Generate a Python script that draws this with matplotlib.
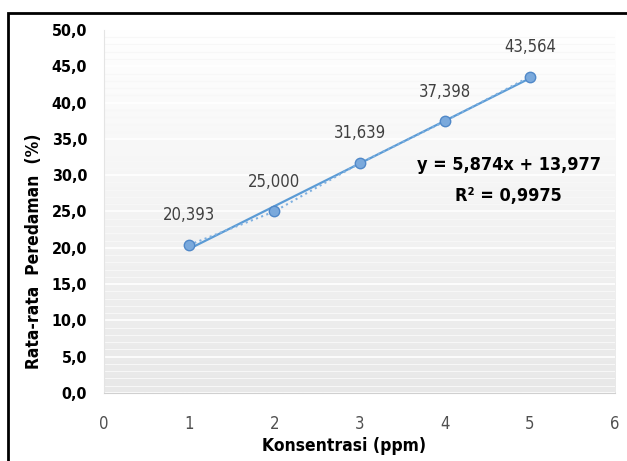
import numpy as np
import matplotlib
matplotlib.use("Agg")
import matplotlib.pyplot as plt
from matplotlib.patches import Rectangle
from matplotlib.ticker import MultipleLocator, FuncFormatter
from matplotlib.colors import LinearSegmentedColormap

konsentrasi = [1, 2, 3, 4, 5]
peredaman = [20.393, 25.000, 31.639, 37.398, 43.564]
labels = ["20,393", "25,000", "31,639", "37,398", "43,564"]
slope = 5.874
intercept = 13.977
eq_text = "y = 5,874x + 13,977"
r2_text = "R² = 0,9975"

plt.rcParams['font.family'] = ["DejaVu Sans"]
plt.rcParams['font.stretch'] = 'condensed'

fig = plt.figure(figsize=(6.27, 4.61), dpi=100)
ax = fig.add_axes([0.1659, 0.1475, 0.815, 0.7875])

# gradient background: white at top, light gray at bottom
grad = np.linspace(0, 1, 256).reshape(-1, 1)
cmap = LinearSegmentedColormap.from_list("g", ["#e8e8e8", "#ffffff"])
ax.imshow(grad, extent=[0, 1, 0, 1], transform=ax.transAxes, cmap=cmap,
          aspect='auto', origin='lower', zorder=0, vmin=0, vmax=1)

ax.set_xlim(0, 6)
ax.set_ylim(0, 50)
ax.xaxis.set_major_locator(MultipleLocator(1))
ax.yaxis.set_major_locator(MultipleLocator(5))
ax.yaxis.set_minor_locator(MultipleLocator(1))
ax.yaxis.set_major_formatter(FuncFormatter(lambda v, p: f"{v:.1f}".replace('.', ',')))
ax.grid(axis='y', which='major', color='white', linewidth=1.2, zorder=1)
ax.grid(axis='y', which='minor', color='#f7f7f7', linewidth=0.8, zorder=1)

for s in ['top', 'right']:
    ax.spines[s].set_visible(False)
ax.spines['left'].set_color('#e4e4e4')
ax.spines['bottom'].set_color('#d0d0d0')
ax.tick_params(axis='both', which='both', length=0)
ax.tick_params(axis='y', labelsize=11.5, pad=12)
ax.tick_params(axis='x', labelsize=12, pad=16, labelcolor='#505050')
for t in ax.get_yticklabels():
    t.set_fontweight('bold')

# trendline
xs = np.array([konsentrasi[0], konsentrasi[-1]])
ax.plot(xs, slope * xs + intercept, color='#5b9bd5', linewidth=1.6, zorder=3)
# data line (dotted)
ax.plot(konsentrasi, peredaman, color='#7fb0e0', linewidth=1.5, linestyle=':', zorder=3)
ax.plot(konsentrasi, peredaman, linestyle='none', marker='o', markersize=7.5,
        markerfacecolor='#7aa9dc', markeredgecolor='#5088c8', markeredgewidth=1.0, zorder=4)

for x, y, lab in zip(konsentrasi, peredaman, labels):
    ax.annotate(lab, (x, y), xytext=(0, 15), textcoords='offset points',
                ha='center', va='bottom', fontsize=12, color='#404040')

ax.text(4.75, 31.4, eq_text, ha='center', va='center', fontsize=13,
        fontweight='bold', color='black')
ax.text(4.75, 27.1, r2_text, ha='center', va='center', fontsize=13,
        fontweight='bold', color='black')

ax.set_xlabel("Konsentrasi (ppm)", fontsize=12.5, fontweight='bold')
ax.set_ylabel("Rata-rata  Peredaman  (%)", fontsize=12.5, fontweight='bold')
ax.xaxis.set_label_coords(0.47, -0.122)
ax.yaxis.set_label_coords(-0.12, 0.39)

# outer frame
fig.patches.append(Rectangle((8 / 627, -0.1), 1.0, (461 - 13) / 461 + 0.1,
                             transform=fig.transFigure, fill=False,
                             edgecolor='black', linewidth=2, zorder=10))

fig.savefig("out.png", dpi=100)
